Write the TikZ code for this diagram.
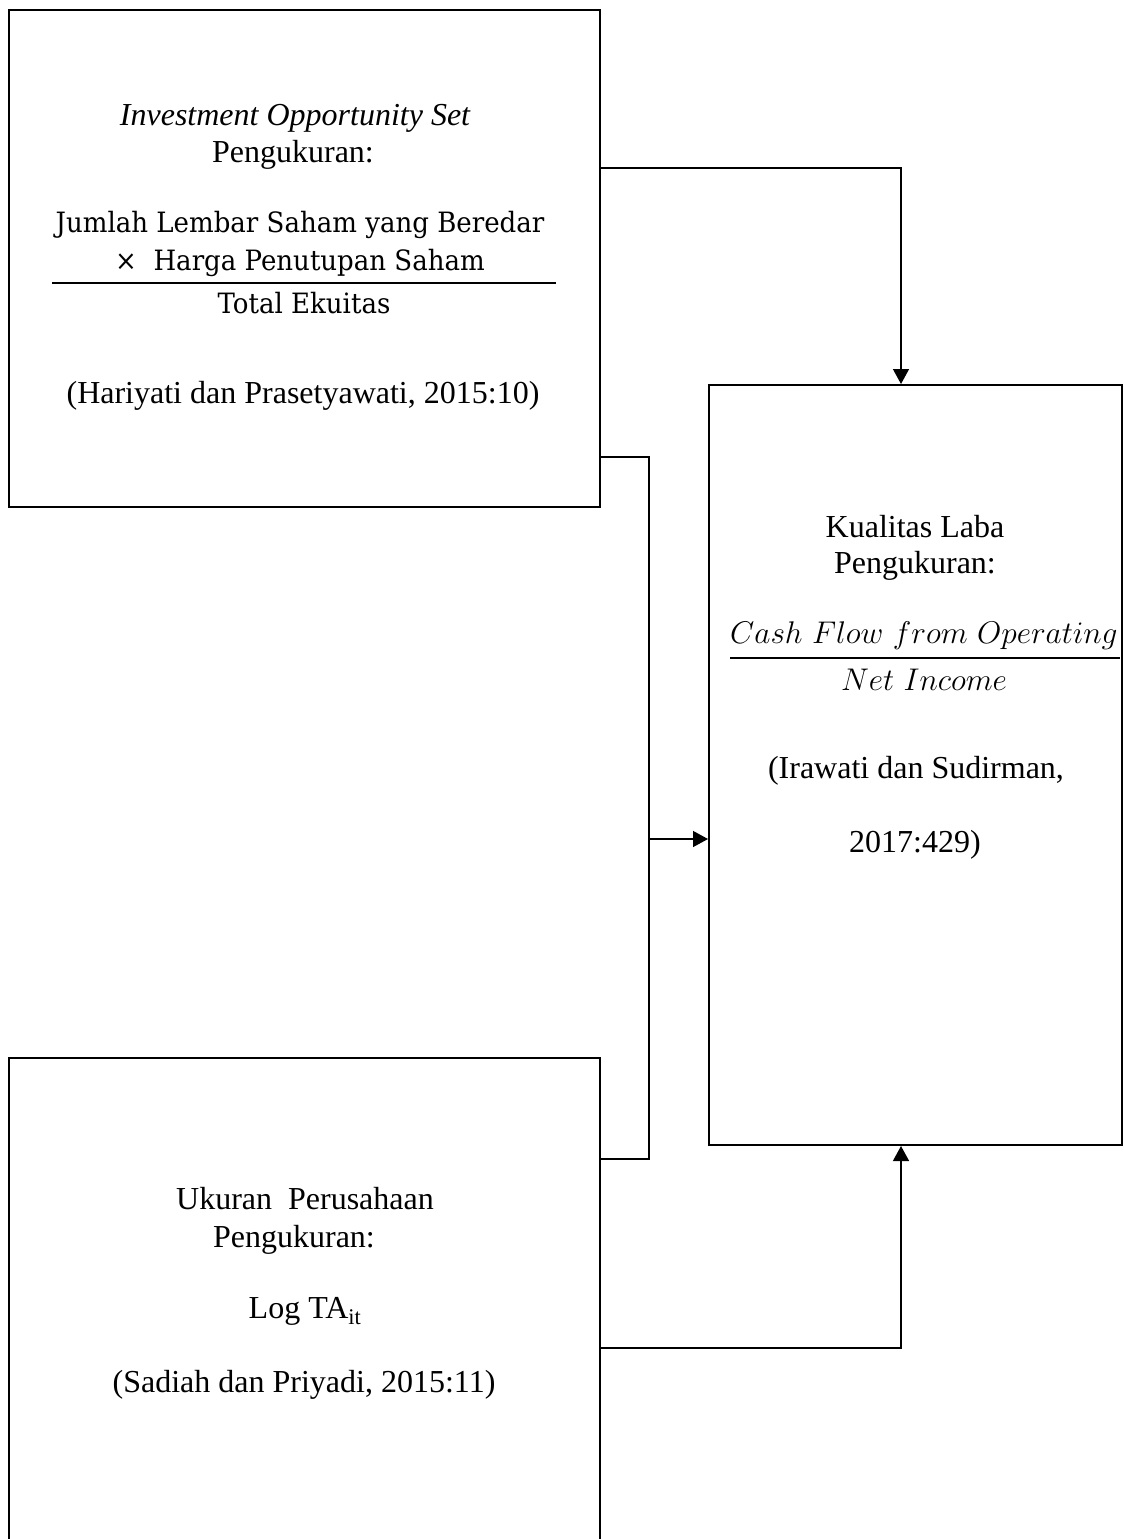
\documentclass[tikz,border=0pt]{standalone}
\usepackage{graphicx}
\usepackage{fontspec}
\newfontfamily\tnr{Liberation Serif}
\newfontfamily\cam{DejaVu Serif}[FakeStretch=0.93]
\usetikzlibrary{arrows.meta}
\tikzset{
  box/.style={draw, line width=2pt, inner sep=0pt},
  txt/.style={inner sep=0pt, anchor=base, font=\tnr\fontsize{32}{37}\selectfont},
  fractxt/.style={inner sep=0pt, anchor=base, font=\cam\fontsize{28}{34}\selectfont},
  mathtxt/.style={inner sep=0pt, anchor=base, font=\fontsize{24.88}{30}\selectfont},
  fracrule/.style={line width=2.5pt},
  conn/.style={line width=1.4pt},
  arr/.style={conn, -{Triangle[width=16pt,length=15pt]}}
}
\begin{document}
\begin{tikzpicture}[x=1pt,y=-1pt]
\useasboundingbox (0,0) rectangle (1124,1539);
\clip (0,0) rectangle (1124,1539);
% boxes
\node[box, minimum width=591pt, minimum height=497pt] (A) at (304.5,258.5) {};
\node[box, minimum width=413pt, minimum height=760pt] (B) at (915.5,765) {};
\node[box, minimum width=591pt, minimum height=560pt] (C) at (304.5,1338) {};
% bend points
\coordinate (j1) at (901,168);
\coordinate (j2) at (649,457);
\coordinate (j3) at (649,1159);
\coordinate (j4) at (649,839);
\coordinate (j5) at (901,1348);
% connectors
\draw[arr] (A.east |- j1) -- (j1) -- (B.north -| j1);
\draw[conn] (A.east |- j2) -- (j2) -- (j3) -- (C.east |- j3);
\draw[arr] (j4) -- (B.west |- j4);
\draw[arr] (C.east |- j5) -- (j5) -- (B.south -| j5);
% texts of A
\node[txt] (a1) at (295,125) {\itshape Investment Opportunity Set};
\node[txt] (a2) at (293,162) {Pengukuran:};
\node[fractxt] (a3) at (300,232) {Jumlah Lembar Saham yang Beredar};
\node[fractxt] (a4) at (300,270) {×\ \ Harga Penutupan Saham};
\draw[fracrule] (52,283) -- (556,283);
\node[fractxt] (a5) at (304,313) {Total Ekuitas};
\node[txt] (a6) at (303,403) {(Hariyati dan Prasetyawati, 2015:10)};
% texts of B
\node[txt] (b1) at (915,537) {Kualitas Laba};
\node[txt] (b2) at (915,573) {Pengukuran:};
\node[mathtxt] (b3) at (924,643) {\scalebox{1.26}{$Cash\ Flow\ from\ Operating$}};
\draw[fracrule] (730,658) -- (1120,658);
\node[mathtxt] (b4) at (924,690) {\scalebox{1.26}{$Net\ Income$}};
\node[txt] (b5) at (916,778) {(Irawati dan Sudirman,};
\node[txt] (b6) at (915,852) {2017:429)};
% texts of C
\node[txt] (c1) at (305,1209) {Ukuran\ \ Perusahaan};
\node[txt] (c2) at (294,1247) {Pengukuran:};
\node[txt] (c3) at (305,1318) {Log TA\textsubscript{it}};
\node[txt] (c4) at (304,1392) {(Sadiah dan Priyadi, 2015:11)};
\end{tikzpicture}
\end{document}
